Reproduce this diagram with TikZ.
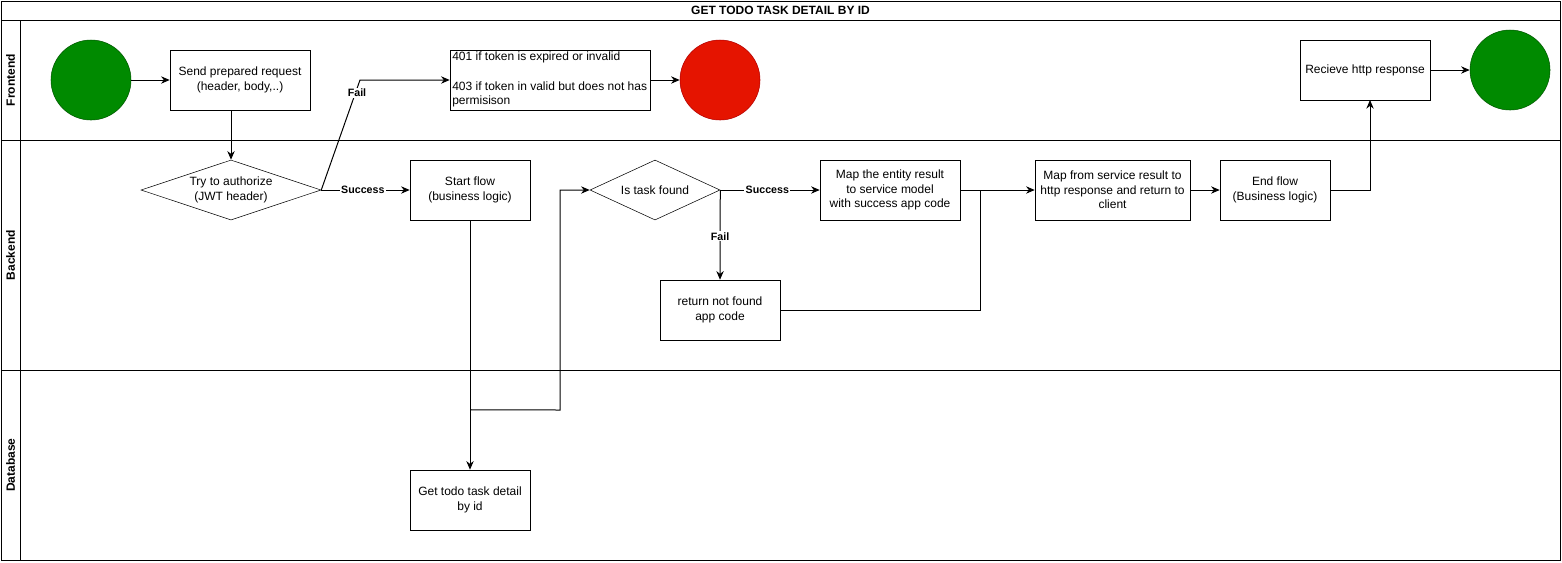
\documentclass[tikz,border=0pt]{standalone}
\usepackage{fontspec}
\setmainfont{Liberation Sans}
\usetikzlibrary{shapes.geometric,arrows.meta}
\definecolor{startgreen}{HTML}{008A00}
\definecolor{startgreenb}{HTML}{005700}
\definecolor{stopred}{HTML}{E51400}
\definecolor{stopredb}{HTML}{B20000}
\tikzset{
  txt/.style={font=\fontsize{9}{11}\selectfont},
  box/.style={draw, txt, rectangle, align=center, inner sep=1pt},
  dia/.style={draw, txt, diamond, aspect=3, align=center, inner sep=0pt},
  circ/.style={circle, minimum size=60pt, inner sep=0pt},
  arr/.style={-{Stealth[length=6.5pt,width=5.5pt]}, line width=0.75pt},
  ln/.style={line width=0.75pt},
  elabel/.style={font=\fontsize{8}{9}\selectfont\bfseries, fill=white, inner sep=1pt},
  lane/.style={font=\fontsize{9}{11}\selectfont\bfseries, rotate=90},
}
\begin{document}
\begin{tikzpicture}[x=0.75pt,y=-0.75pt]
\useasboundingbox (0,0) rectangle (1562,562);
% pool and lanes
\draw[ln] (1,1) rectangle (1560,560);
\draw[ln] (1,20) -- (1560,20);
\draw[ln] (20,20) -- (20,560);
\draw[ln] (1,140) -- (1560,140);
\draw[ln] (1,370) -- (1560,370);
\node[font=\fontsize{9}{11}\selectfont\bfseries] (title) at (780.5,10.5) {GET TODO TASK DETAIL BY ID};
\node[lane] (lfront) at (10.5,80) {Frontend};
\node[lane] (lback) at (10.5,255) {Backend};
\node[lane] (ldb) at (10.5,465) {Database};

% frontend
\node[circ, fill=startgreen, draw=startgreenb] (start) at (91,80) {};
\node[box, minimum width=105pt, minimum height=45pt] (send) at (240,80) {Send prepared request\\(header, body,..)};
\node[draw, rectangle, minimum width=150pt, minimum height=45pt, inner sep=0pt] (err) at (550,80) {};
\node[txt, anchor=north west, align=left, inner sep=0pt] (errtxt) at (452,52) {401 if token is expired or invalid\\[11pt]403 if token in valid but does not has\\permisison};
\node[circ, fill=stopred, draw=stopredb] (stop) at (720,80) {};
\node[box, minimum width=97.5pt, minimum height=45pt] (recv) at (1365,70) {Recieve http response};
\node[circ, fill=startgreen, draw=startgreenb] (endc) at (1510,70) {};

% backend
\node[dia, minimum width=135pt, minimum height=45pt] (auth) at (231,190) {Try to authorize\\(JWT header)};
\node[box, minimum width=90pt, minimum height=45pt] (sflow) at (470,190) {Start flow\\(business logic)};
\node[dia, minimum width=97.5pt, minimum height=45pt] (found) at (655,190) {Is task found};
\node[box, minimum width=105pt, minimum height=45pt] (mapent) at (890,190) {Map the entity result\\to service model\\with success app code};
\node[box, minimum width=90pt, minimum height=45pt] (notfound) at (720,310) {return not found\\app code};
\node[box, minimum width=116.25pt, minimum height=45pt] (mapsrv) at (1112.5,190) {Map from service result to\\http response and return to\\client};
\node[box, minimum width=82.5pt, minimum height=45pt] (eflow) at (1275,190) {End flow\\(Business logic)};

% database
\node[box, minimum width=90pt, minimum height=45pt] (gettodo) at (470,500) {Get todo task detail\\by id};

% connectors
\draw[arr] (start) -- (send);
\draw[arr] (send.south -| auth.north) -- (auth.north);
\draw[arr] (auth.east) -- (360,80) -- (err.west);
\node[elabel] (faillbl) at (357,93) {Fail};
\draw[arr] (err) -- (stop);
\draw[arr] (auth.east) -- (sflow.west) node[elabel, midway, xshift=-2pt] {Success};
\draw[arr] (sflow.south) -- (gettodo.north);
\draw[arr] (gettodo.north) ++(0,-60) -- (560,410) -- (560,190) -- (found.west);
\draw[arr] (found.east) -- (mapent.west) node[elabel, midway, xshift=-2pt] {Success};
\draw[arr] (found.east) -- (notfound.north) node[elabel, midway, yshift=-1pt] {Fail};
\draw[arr] (mapent.east) -- (mapsrv.west);
\draw[ln] (notfound.east) -- (980,310) -- (980,190);
\draw[arr] (mapsrv.east) -- (eflow.west);
\draw[arr] (eflow.east) -- (1370,190) -- (1370,100);
\draw[arr] (recv.east) -- (endc.west);
\end{tikzpicture}
\end{document}
